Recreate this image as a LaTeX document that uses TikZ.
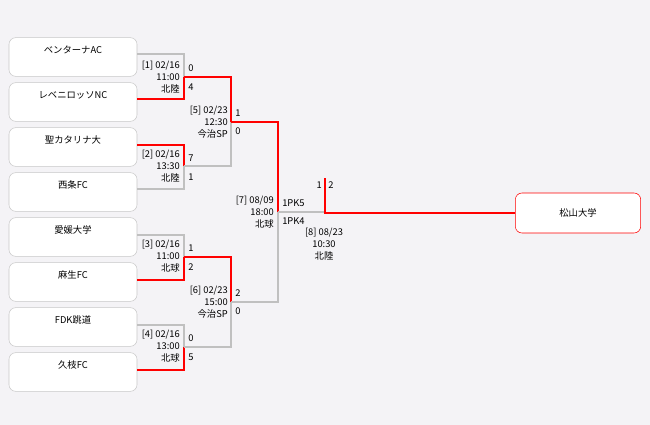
\documentclass[tikz,border=0pt]{standalone}
\usepackage{fontspec}
\setmainfont{Noto Sans CJK JP}
\usetikzlibrary{positioning}
\definecolor{bgcol}{HTML}{F4F3F6}
\definecolor{boxline}{HTML}{C8C8C8}
\definecolor{lose}{HTML}{C0C0C0}
\definecolor{win}{HTML}{FF0000}
\tikzset{
  team/.style={draw=boxline, fill=white, rounded corners=5pt, minimum width=96pt, minimum height=29pt, inner sep=0pt, font=\fontsize{7}{8}\selectfont},
  info/.style={font=\fontsize{7}{8}\selectfont, inner sep=0pt, align=right, anchor=north east},
  score/.style={font=\fontsize{7}{8}\selectfont, inner sep=0pt, anchor=west},
  lost/.style={draw=lose, line width=1.5pt},
  won/.style={draw=win, line width=1.5pt},
}
\begin{document}
\begin{tikzpicture}[x=0.75pt, y=-0.75pt]
  \fill[bgcol] (0,0) rectangle (650,425);
  \useasboundingbox (0,0) rectangle (650,425);

  % Teams
  \node[team] (t1) at (73,57) {};
  \node[team] (t2) at (73,102) {};
  \node[team] (t3) at (73,147) {};
  \node[team] (t4) at (73,192) {};
  \node[team] (t5) at (73,237) {};
  \node[team] (t6) at (73,282) {};
  \node[team] (t7) at (73,327) {};
  \node[team] (t8) at (73,372) {};
  \node[team, draw=win, minimum width=94pt, minimum height=30pt] (t9) at (578,213) {松山大学};
  \foreach \i/\name in {1/ベンターナAC, 2/レベニロッソNC, 3/聖カタリナ大, 4/西条FC, 5/愛媛大学, 6/麻生FC, 7/FDK跳道, 8/久枝FC}
    \node[font=\fontsize{7}{8}\selectfont] at ([yshift=-9.5]t\i.north) {\name};

  % Joints
  \coordinate (j1) at (184,77);
  \coordinate (j2) at (184,166);
  \coordinate (j3) at (184,257);
  \coordinate (j4) at (184,347);
  \coordinate (k1) at (231,122);
  \coordinate (k2) at (231,302);
  \coordinate (f) at (278,212);
  \coordinate (w) at (325,178);

  % Round 1
  \draw[lost] (t1.east |- 0,54) -| (j1);
  \draw[won] (t2.east |- 0,99) -| (j1);
  \draw[won] (t3.east |- 0,145) -| (j2);
  \draw[lost] (t4.east |- 0,189) -| (j2);
  \draw[lost] (t5.east |- 0,235) -| (j3);
  \draw[won] (t6.east |- 0,280) -| (j3);
  \draw[lost] (t7.east |- 0,325) -| (j4);
  \draw[won] (t8.east |- 0,370) -| (j4);

  % Round 2
  \draw[won] (j1) -| (k1);
  \draw[lost] (j2) -| (k1);
  \draw[won] (j3) -| (k2);
  \draw[lost] (j4) -| (k2);
  \draw[won] (k1) -| (f);
  \draw[lost] (k2) -| (f);

  % Final
  \draw[lost] (f) -- (f -| w);
  \draw[won] (w) |- (t9.west);

  % Match labels
  \node[info] (m1) at (180,61) {[1] 02/16\\[1pt]11:00\\[1pt]北陸};
  \node[info] (m2) at (180,150) {[2] 02/16\\[1pt]13:30\\[1pt]北陸};
  \node[info] (m3) at (180,240) {[3] 02/16\\[1pt]11:00\\[1pt]北球};
  \node[info] (m4) at (180,330) {[4] 02/16\\[1pt]13:00\\[1pt]北球};
  \node[info] (m5) at (228,106) {[5] 02/23\\[1pt]12:30\\[1pt]今治SP};
  \node[info] (m6) at (228,286) {[6] 02/23\\[1pt]15:00\\[1pt]今治SP};
  \node[info] (m7) at (274,196) {[7] 08/09\\[1pt]18:00\\[1pt]北球};
  \node[info, align=center, anchor=north] (m8) at (324,228) {[8] 08/23\\[1pt]10:30\\[1pt]北陸};

  % Scores
  \foreach \x/\y/\s in {188/68/0, 188/87/4, 188/158/7, 188/177/1, 188/248/1, 188/267/2, 188/338/0, 188/357/5,
                        235/113/1, 235/131/0, 235/293/2, 235/311/0, 282/203/1PK5, 282/221/1PK4, 328/185/2}
    \node[score] at (\x,\y) {\s};
  \node[score, anchor=east] at (322,185) {1};
\end{tikzpicture}
\end{document}
